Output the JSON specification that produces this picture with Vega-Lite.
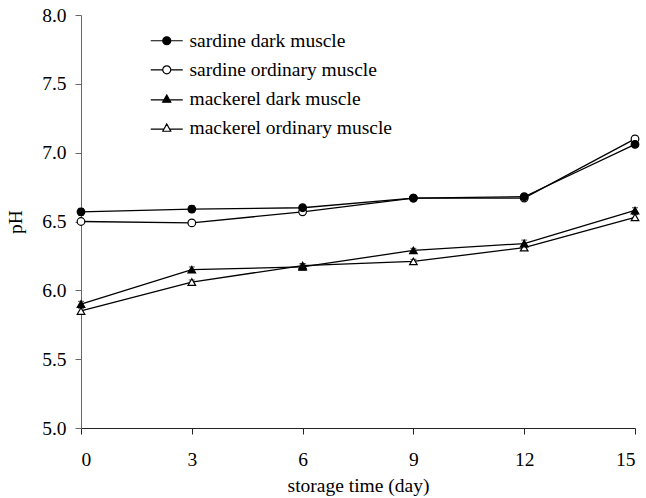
{
  "$schema": "https://vega.github.io/schema/vega-lite/v6.json",
  "width": 554,
  "height": 413,
  "autosize": {"type": "none"},
  "padding": {"left": 81, "top": 15, "right": 11, "bottom": 70},
  "background": "white",
  "config": {
    "view": {"stroke": null},
    "font": "Liberation Serif",
    "axis": {"grid": false, "labelFont": "Liberation Serif", "titleFont": "Liberation Serif", "labelColor": "black", "titleColor": "black", "labelFontSize": 19.5, "titleFontSize": 19.5, "titleFontWeight": "normal", "tickSize": 6},
    "legend": {"labelFont": "Liberation Serif", "labelFontSize": 19.5, "labelColor": "black", "labelLimit": 0}
  },
  "data": {
    "values": [
      {"day": 0, "pH": 6.50, "sd": 0.01, "series": "sardine ordinary muscle"},
      {"day": 3, "pH": 6.49, "sd": 0.01, "series": "sardine ordinary muscle"},
      {"day": 6, "pH": 6.57, "sd": 0.01, "series": "sardine ordinary muscle"},
      {"day": 9, "pH": 6.67, "sd": 0.01, "series": "sardine ordinary muscle"},
      {"day": 12, "pH": 6.67, "sd": 0.01, "series": "sardine ordinary muscle"},
      {"day": 15, "pH": 7.10, "sd": 0.02, "series": "sardine ordinary muscle"},
      {"day": 0, "pH": 6.57, "sd": 0.025, "series": "sardine dark muscle"},
      {"day": 3, "pH": 6.59, "sd": 0.025, "series": "sardine dark muscle"},
      {"day": 6, "pH": 6.60, "sd": 0.01, "series": "sardine dark muscle"},
      {"day": 9, "pH": 6.67, "sd": 0.01, "series": "sardine dark muscle"},
      {"day": 12, "pH": 6.68, "sd": 0.015, "series": "sardine dark muscle"},
      {"day": 15, "pH": 7.06, "sd": 0.02, "series": "sardine dark muscle"},
      {"day": 0, "pH": 5.85, "sd": 0.02, "series": "mackerel ordinary muscle"},
      {"day": 3, "pH": 6.06, "sd": 0.015, "series": "mackerel ordinary muscle"},
      {"day": 6, "pH": 6.18, "sd": 0.015, "series": "mackerel ordinary muscle"},
      {"day": 9, "pH": 6.21, "sd": 0.015, "series": "mackerel ordinary muscle"},
      {"day": 12, "pH": 6.31, "sd": 0.015, "series": "mackerel ordinary muscle"},
      {"day": 15, "pH": 6.53, "sd": 0.02, "series": "mackerel ordinary muscle"},
      {"day": 0, "pH": 5.90, "sd": 0.02, "series": "mackerel dark muscle"},
      {"day": 3, "pH": 6.15, "sd": 0.02, "series": "mackerel dark muscle"},
      {"day": 6, "pH": 6.17, "sd": 0.02, "series": "mackerel dark muscle"},
      {"day": 9, "pH": 6.29, "sd": 0.015, "series": "mackerel dark muscle"},
      {"day": 12, "pH": 6.34, "sd": 0.025, "series": "mackerel dark muscle"},
      {"day": 15, "pH": 6.58, "sd": 0.02, "series": "mackerel dark muscle"}
    ]
  },
  "encoding": {
    "x": {"field": "day", "type": "quantitative", "scale": {"domain": [0, 15], "nice": false}, "axis": {"values": [0, 3, 6, 9, 12, 15], "title": "storage time (day)", "domainColor": "#222", "tickColor": "#222", "labelPadding": 16, "titlePadding": 8}},
    "y": {"field": "pH", "type": "quantitative", "scale": {"domain": [5, 8], "nice": false, "zero": false}, "axis": {"values": [5, 5.5, 6, 6.5, 7, 7.5, 8], "format": ".1f", "title": "pH", "domainColor": "#666", "tickColor": "#666", "labelPadding": 9, "titlePadding": 16}}
  },
  "resolve": {"scale": {"shape": "independent", "fill": "independent"}, "legend": {"shape": "independent", "fill": "independent"}},
  "layer": [
    {
      "mark": {"type": "line", "color": "black", "strokeWidth": 1.3},
      "encoding": {"detail": {"field": "series"}}
    },
    {
      "mark": {"type": "errorbar", "color": "black", "ticks": {"size": 6, "color": "black", "strokeWidth": 1.2}, "rule": {"strokeWidth": 1.2}},
      "encoding": {
        "y": {"field": "pH", "type": "quantitative"},
        "yError": {"field": "sd"},
        "detail": {"field": "series"}
      }
    },
    {
      "mark": {"type": "point", "filled": false, "stroke": "black", "strokeWidth": 1.2, "size": 58, "opacity": 1},
      "encoding": {
        "shape": {"field": "series", "type": "nominal", "scale": {"domain": ["sardine dark muscle", "sardine ordinary muscle", "mackerel dark muscle", "mackerel ordinary muscle"], "range": ["circle", "circle", "triangle-up", "triangle-up"]}, "legend": null},
        "fill": {"field": "series", "type": "nominal", "scale": {"domain": ["sardine dark muscle", "sardine ordinary muscle", "mackerel dark muscle", "mackerel ordinary muscle"], "range": ["black", "white", "black", "white"]}, "legend": null}
      }
    },
    {
      "transform": [{"filter": "false"}],
      "mark": {"type": "point", "filled": false, "stroke": "black", "strokeWidth": 1.2, "opacity": 1},
      "encoding": {
        "shape": {"field": "series", "type": "nominal", "scale": {"domain": ["sardine dark muscle", "sardine ordinary muscle", "mackerel dark muscle", "mackerel ordinary muscle"], "range": ["M-4,0H-1M1,0H4M-1,0A1,1 0 1,1 1,0A1,1 0 1,1 -1,0Z", "M-4,0H-1M1,0H4M-1,0A1,1 0 1,1 1,0A1,1 0 1,1 -1,0Z", "M-4,0.25H-0.6M0.6,0.25H4M-1,0.8L0,-1L1,0.8Z", "M-4,0.25H-0.6M0.6,0.25H4M-1,0.8L0,-1L1,0.8Z"]}, "legend": {"title": null, "orient": "none", "legendX": 76, "legendY": 16, "rowPadding": 8.1, "symbolSize": 64, "symbolStrokeWidth": 1.2, "labelOffset": 13}},
        "fill": {"field": "series", "type": "nominal", "scale": {"domain": ["sardine dark muscle", "sardine ordinary muscle", "mackerel dark muscle", "mackerel ordinary muscle"], "range": ["black", "white", "black", "white"]}, "legend": {"title": null, "orient": "none", "legendX": 76, "legendY": 16, "rowPadding": 8.1, "symbolSize": 64, "symbolStrokeWidth": 1.2, "labelOffset": 13}}
      }
    }
  ]
}
